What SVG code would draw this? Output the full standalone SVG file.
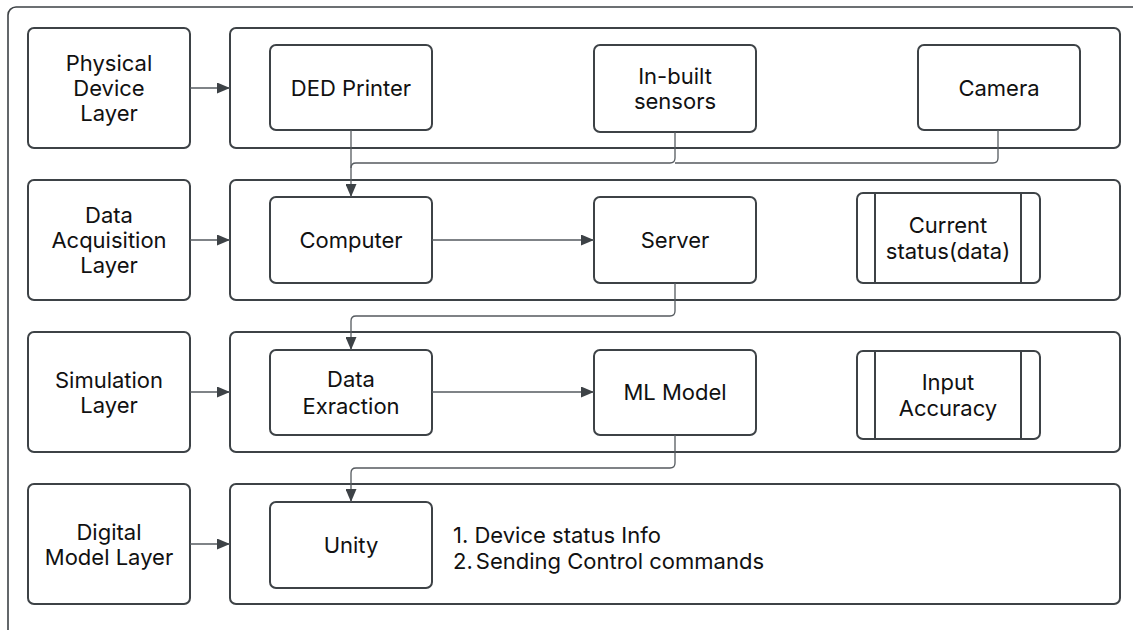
<svg xmlns="http://www.w3.org/2000/svg" width="1133" height="630" viewBox="0 0 1133 630">
<defs>
<marker id="arr" viewBox="0 0 13 11" refX="13" refY="5.5" markerWidth="13" markerHeight="11" markerUnits="userSpaceOnUse" orient="auto">
<path d="M0,0 L13,5.5 L0,11 Z" fill="#3d4246"/>
</marker>
<style>
.box{fill:#ffffff;stroke:#3d4246;stroke-width:2}
.frame{fill:#ffffff;stroke:#3d4246;stroke-width:1.6}
.ln{fill:none;stroke:#555a5f;stroke-width:1.3}
.t{font-family:Inter,"Noto Sans",sans-serif;font-size:22px;fill:#111111;text-anchor:middle;dominant-baseline:central}
.tl{font-family:Inter,"Noto Sans",sans-serif;font-size:22px;fill:#111111;dominant-baseline:central}
</style>
</defs>
<rect class="frame" x="8" y="7" width="1150" height="650" rx="8"/>

<g id="layer-physical"><rect class="box" x="28" y="28" width="162" height="120" rx="6"/>
<text class="t" x="109" y="63">Physical</text><text class="t" x="109" y="88">Device</text><text class="t" x="109" y="113">Layer</text></g>
<g id="layer-data"><rect class="box" x="28" y="180" width="162" height="120" rx="6"/>
<text class="t" x="109" y="215">Data</text><text class="t" x="109" y="240">Acquisition</text><text class="t" x="109" y="265">Layer</text></g>
<g id="layer-sim"><rect class="box" x="28" y="332" width="162" height="120" rx="6"/>
<text class="t" x="109" y="380">Simulation</text><text class="t" x="109" y="405">Layer</text></g>
<g id="layer-digital"><rect class="box" x="28" y="484" width="162" height="120" rx="6"/>
<text class="t" x="109" y="532">Digital</text><text class="t" x="109" y="557">Model Layer</text></g>

<g id="container-physical"><rect class="box" x="230" y="28" width="890" height="120" rx="6"/></g>
<g id="container-data"><rect class="box" x="230" y="180" width="890" height="120" rx="6"/></g>
<g id="container-sim"><rect class="box" x="230" y="332" width="890" height="120" rx="6"/></g>
<g id="container-digital"><rect class="box" x="230" y="484" width="890" height="120" rx="6"/>
<text class="tl" x="453" y="535">1. Device status Info</text>
<text class="tl" x="453" y="561">2.<tspan dx="3">Sending Control commands</tspan></text></g>

<g id="ded-printer"><rect class="box" x="270" y="45" width="162" height="85" rx="6"/><text class="t" x="351" y="88">DED Printer</text></g>
<g id="sensors"><rect class="box" x="594" y="45" width="162" height="87" rx="6"/><text class="t" x="675" y="76">In-built</text><text class="t" x="675" y="101">sensors</text></g>
<g id="camera"><rect class="box" x="918" y="45" width="162" height="85" rx="6"/><text class="t" x="999" y="88">Camera</text></g>

<g id="computer"><rect class="box" x="270" y="197" width="162" height="86" rx="6"/><text class="t" x="351" y="240">Computer</text></g>
<g id="server"><rect class="box" x="594" y="197" width="162" height="86" rx="6"/><text class="t" x="675" y="240">Server</text></g>
<g id="current-status"><rect class="box" x="857" y="193" width="183" height="90" rx="6"/>
<line class="box" x1="875" y1="193" x2="875" y2="283"/><line class="box" x1="1021" y1="193" x2="1021" y2="283"/>
<text class="t" x="948" y="225">Current</text><text class="t" x="948" y="251">status(data)</text></g>

<g id="data-extraction"><rect class="box" x="270" y="350" width="162" height="85" rx="6"/><text class="t" x="351" y="379">Data</text><text class="t" x="351" y="406">Exraction</text></g>
<g id="ml-model"><rect class="box" x="594" y="350" width="162" height="85" rx="6"/><text class="t" x="675" y="392">ML Model</text></g>
<g id="input-accuracy"><rect class="box" x="857" y="351" width="183" height="88" rx="6"/>
<line class="box" x1="875" y1="351" x2="875" y2="439"/><line class="box" x1="1021" y1="351" x2="1021" y2="439"/>
<text class="t" x="948" y="382">Input</text><text class="t" x="948" y="408">Accuracy</text></g>

<g id="unity"><rect class="box" x="270" y="502" width="162" height="86" rx="6"/><text class="t" x="351" y="545">Unity</text></g>

<g id="connectors">
<path class="ln" d="M190,88 H230" marker-end="url(#arr)"/>
<path class="ln" d="M190,240 H230" marker-end="url(#arr)"/>
<path class="ln" d="M190,392 H230" marker-end="url(#arr)"/>
<path class="ln" d="M190,544 H230" marker-end="url(#arr)"/>
<path class="ln" d="M351,130 V197" marker-end="url(#arr)"/>
<path class="ln" d="M675,132 V158 Q675,163 670,163 H356 Q351,163 351,168"/>
<path class="ln" d="M998,130 V158 Q998,163 993,163 H675"/>
<path class="ln" d="M432,240 H594" marker-end="url(#arr)"/>
<path class="ln" d="M675,283 V311 Q675,316 670,316 H356 Q351,316 351,321 V350" marker-end="url(#arr)"/>
<path class="ln" d="M432,392 H594" marker-end="url(#arr)"/>
<path class="ln" d="M675,435 V463 Q675,468 670,468 H356 Q351,468 351,473 V502" marker-end="url(#arr)"/>
</g>
</svg>
